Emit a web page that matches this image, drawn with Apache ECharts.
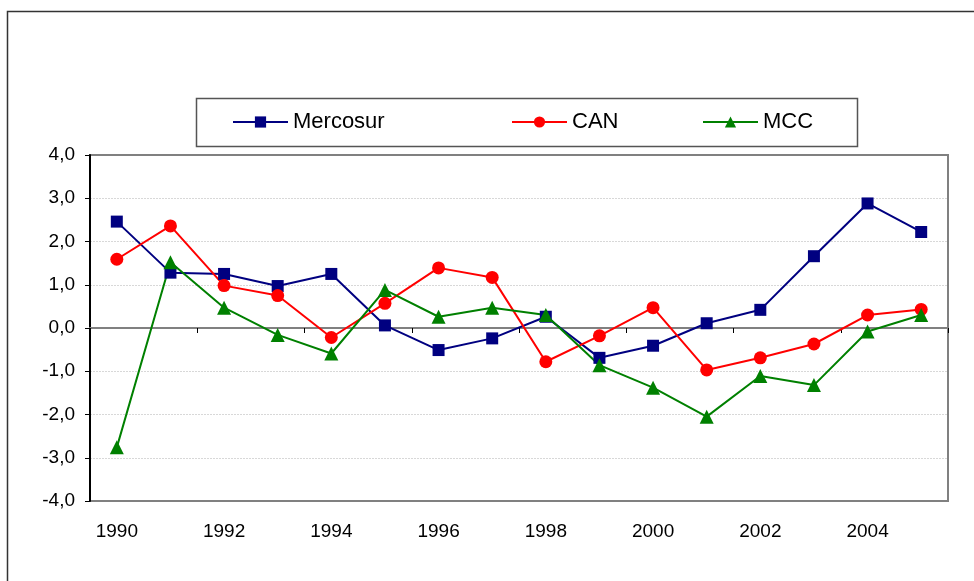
<!DOCTYPE html>
<html>
<head>
<meta charset="utf-8">
<script src="https://cdn.jsdelivr.net/npm/echarts@6/dist/echarts.min.js"></script>
<style>
html,body{margin:0;padding:0;background:#fff;}
#chart{width:974px;height:581px;}
</style>
</head>
<body>
<div id="chart"></div>
<script>
const years = ['1990','1991','1992','1993','1994','1995','1996','1997','1998','1999','2000','2001','2002','2003','2004','2005'];
const mercosur = [2.46, 1.28, 1.25, 0.97, 1.25, 0.06, -0.51, -0.24, 0.26, -0.69, -0.41, 0.11, 0.42, 1.66, 2.88, 2.22];
const can = [1.59, 2.36, 0.98, 0.75, -0.22, 0.57, 1.39, 1.17, -0.78, -0.18, 0.47, -0.97, -0.69, -0.37, 0.30, 0.43];
const mcc = [-2.76, 1.52, 0.47, -0.16, -0.59, 0.88, 0.26, 0.47, 0.30, -0.86, -1.38, -2.05, -1.11, -1.32, -0.08, 0.30];
const seriesNames = ['Mercosur', 'CAN', 'MCC'];

const FONT = 'Liberation Sans, Arial, sans-serif';
const chart = echarts.init(document.getElementById('chart'), null, {renderer: 'canvas'});

function legendFor(name, left) {
  return {
    data: [name], left: left, top: 111, padding: 0, itemWidth: 55, itemHeight: 14, itemGap: 5,
    textStyle: {fontFamily: FONT, fontSize: 22, color: '#000'}, selectedMode: false
  };
}

const option = {
  animation: false,
  backgroundColor: '#fff',
  graphic: [
    {type: 'rect', left: 5, top: 9, shape: {width: 1000, height: 1000}, style: {fill: 'none', stroke: '#333', lineWidth: 1.5}, z: -1},
    {type: 'rect', left: 194, top: 96, shape: {width: 661, height: 48}, style: {fill: 'none', stroke: '#555', lineWidth: 1.5}}
  ],
  legend: [legendFor('Mercosur', 232), legendFor('CAN', 511), legendFor('MCC', 702)],
  grid: {left: 90, right: 26, top: 155, bottom: 80, show: true, borderColor: '#808080', borderWidth: 2, backgroundColor: 'transparent'},
  xAxis: [
    {
      type: 'category', data: years, boundaryGap: true, position: 'bottom',
      axisLine: {onZero: true, lineStyle: {color: '#808080', width: 2}},
      axisTick: {show: true, interval: 1, length: 5, lineStyle: {color: '#000', width: 1}},
      axisLabel: {show: false}, splitLine: {show: false}
    },
    {
      type: 'category', data: years, boundaryGap: true, position: 'bottom',
      axisLine: {show: false, onZero: false}, axisTick: {show: false},
      axisLabel: {show: true, interval: 1, margin: 21, fontFamily: FONT, fontSize: 19, color: '#000'},
      splitLine: {show: false}
    }
  ],
  yAxis: {
    type: 'value', min: -4, max: 4, interval: 1,
    axisLine: {show: true, onZero: false, lineStyle: {color: '#000', width: 2}},
    axisTick: {show: true, length: 5, lineStyle: {color: '#000', width: 1}},
    axisLabel: {margin: 15, fontFamily: FONT, fontSize: 19, color: '#000', formatter: v => v.toFixed(1).replace('.', ',')},
    splitLine: {show: true, showMinLine: false, showMaxLine: false, lineStyle: {color: '#d8d8d8', width: 1, type: [2, 1]}}
  },
  series: [
    {name: seriesNames[0], type: 'line', data: mercosur, symbol: 'rect', symbolSize: 12,
     lineStyle: {color: '#000080', width: 2}, itemStyle: {color: '#000080'}},
    {name: seriesNames[1], type: 'line', data: can, symbol: 'circle', symbolSize: 13,
     lineStyle: {color: '#FF0000', width: 2}, itemStyle: {color: '#FF0000'}},
    {name: seriesNames[2], type: 'line', data: mcc, symbol: 'triangle', symbolSize: 14,
     lineStyle: {color: '#008000', width: 2}, itemStyle: {color: '#008000'}}
  ]
};
chart.setOption(option);
</script>
</body>
</html>
